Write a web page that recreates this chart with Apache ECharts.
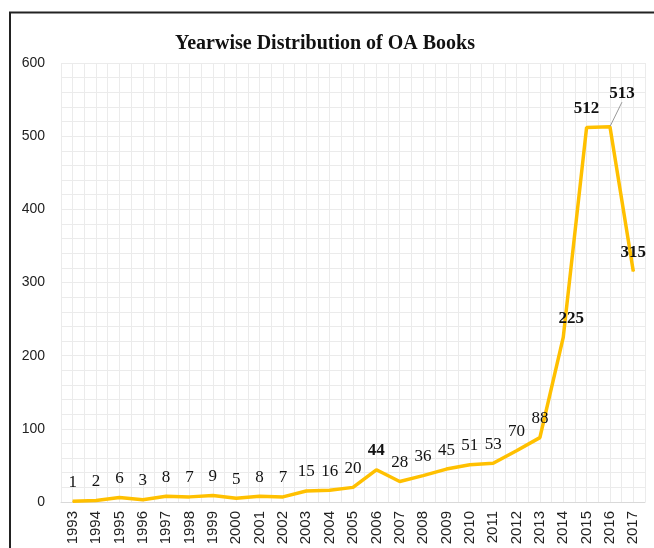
<!DOCTYPE html>
<html><head><meta charset="utf-8">
<script src="https://cdn.jsdelivr.net/npm/echarts@6/dist/echarts.min.js"></script>
<style>html,body{margin:0;padding:0;background:#fff}#c{width:654px;height:548px}</style>
</head><body><div id="c"></div>
<script>
const years = ['1993','1994','1995','1996','1997','1998','1999','2000','2001','2002','2003','2004','2005','2006','2007','2008','2009','2010','2011','2012','2013','2014','2015','2016','2017'];
const books = [1,2,6,3,8,7,9,5,8,7,15,16,20,44,28,36,45,51,53,70,88,225,512,513,315];
const boldYears = ['2006','2014','2015','2016','2017'];
const yTicks = [0,100,200,300,400,500,600];

const chart = echarts.init(document.getElementById('c'), null, {renderer:'canvas'});
const data = books.map((v,i)=>{
  const d = {value:v};
  const lbl = {show:true};
  if (boldYears.includes(years[i])) lbl.fontWeight = 'bold';
  d.label = lbl;
  d.labelLine = {show: years[i]==='2016'};
  return d;
});
chart.setOption({
  animation:false,
  title:{text:'Yearwise Distribution of OA Books', left:320, top:29, textAlign:'center',
    textStyle:{fontFamily:'Liberation Serif', fontWeight:'bold', fontSize:20, color:'#111'}},
  grid:{left:61, right:9, top:63, bottom:46, containLabel:false},
  xAxis:[{type:'category', data:years, boundaryGap:true,
    axisLine:{lineStyle:{color:'#d9d9d9', width:1}}, axisTick:{show:false},
    axisLabel:{rotate:90, margin:9, fontFamily:'Liberation Sans', fontSize:15, color:'#222', interval:0},
    splitLine:{show:false}},
   {type:'value', min:0, max:50, interval:1, position:'top',
    axisLine:{show:false}, axisTick:{show:false}, axisLabel:{show:false},
    splitLine:{show:true, lineStyle:{color:'#ebebeb', width:1}}}],
  yAxis:{type:'value', min:yTicks[0], max:yTicks[yTicks.length-1], interval:100,
    axisLine:{show:false}, axisTick:{show:false},
    axisLabel:{margin:16, fontFamily:'Liberation Sans', fontSize:14, color:'#222'},
    splitLine:{show:true, lineStyle:{color:'#ebebeb', width:1}},
    minorTick:{show:false, splitNumber:5},
    minorSplitLine:{show:true, lineStyle:{color:'#ebebeb', width:1}}},
  series:[{type:'line', xAxisIndex:0, data:data, symbol:'circle', symbolSize:1, showSymbol:true, smooth:false,
    lineStyle:{color:'#FFC000', width:3.5}, itemStyle:{color:'#FFC000'},
    label:{show:true, position:'top', distance:10, fontFamily:'Liberation Serif', fontSize:17, color:'#111'},
    labelLine:{show:false, showAbove:false, lineStyle:{color:'#999', width:1}},
    labelLayout:function(p){
      if (p.dataIndex===23) return {dx:12, dy:-14, hideOverlap:false};
      if (p.dataIndex===21) return {dx:8, dy:0, hideOverlap:false};
      return {hideOverlap:false};
    }}],
  graphic:[
    {type:'line', shape:{x1:10, y1:12, x2:10, y2:548}, style:{stroke:'#222', lineWidth:2}},
    {type:'line', shape:{x1:9, y1:12.5, x2:654, y2:12.5}, style:{stroke:'#222', lineWidth:2}}
  ]
});
</script></body></html>
